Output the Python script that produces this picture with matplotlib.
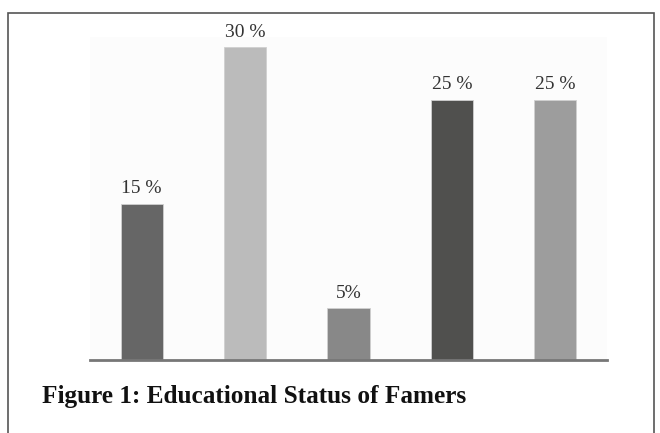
import matplotlib.pyplot as plt
from matplotlib.patches import Rectangle

# Educational status of farmers (percent)
categories = ["A", "B", "C", "D", "E"]
values = [15, 30, 5, 25, 25]
labels = ["15 %", "30 %", "5%", "25 %", "25 %"]
colors = ["#666666", "#bbbbbb", "#888888", "#50504e", "#9d9d9d"]

W, H = 660, 433
fig = plt.figure(figsize=(W / 100, H / 100), dpi=100)
fig.patch.set_facecolor("white")

# outer frame (open at the bottom)
fig.add_artist(Rectangle((8 / W, -0.05), (654 - 8) / W, 1.05 - 13 / H,
                         transform=fig.transFigure, fill=False,
                         edgecolor="#555555", linewidth=1.2))

ax = fig.add_axes([90 / W, 1 - 360 / H, (607 - 90) / W, (360 - 37) / H])
ax.set_facecolor("#fcfcfc")

x = range(len(categories))
ax.bar(x, values, width=0.41, color=colors, edgecolor="#d0d0d0", linewidth=0.6)
ax.set_xlim(-0.5, 4.5)
ax.set_ylim(0, 31)

for i, (v, t) in enumerate(zip(values, labels)):
    ax.text(i, v + 0.6, t, ha="center", va="bottom", fontsize=14,
            family="Liberation Serif", color="#333333")

for s in ["top", "right", "left"]:
    ax.spines[s].set_visible(False)
ax.spines["bottom"].set_color("#777777")
ax.spines["bottom"].set_linewidth(2)
ax.set_xticks([])
ax.set_yticks([])

fig.text(42 / W, 1 - 396 / H, "Figure 1: Educational Status of Famers",
         fontsize=18.2, fontweight="bold", family="Liberation Serif",
         ha="left", va="center", color="#111111")

fig.savefig("out.png", dpi=100)
